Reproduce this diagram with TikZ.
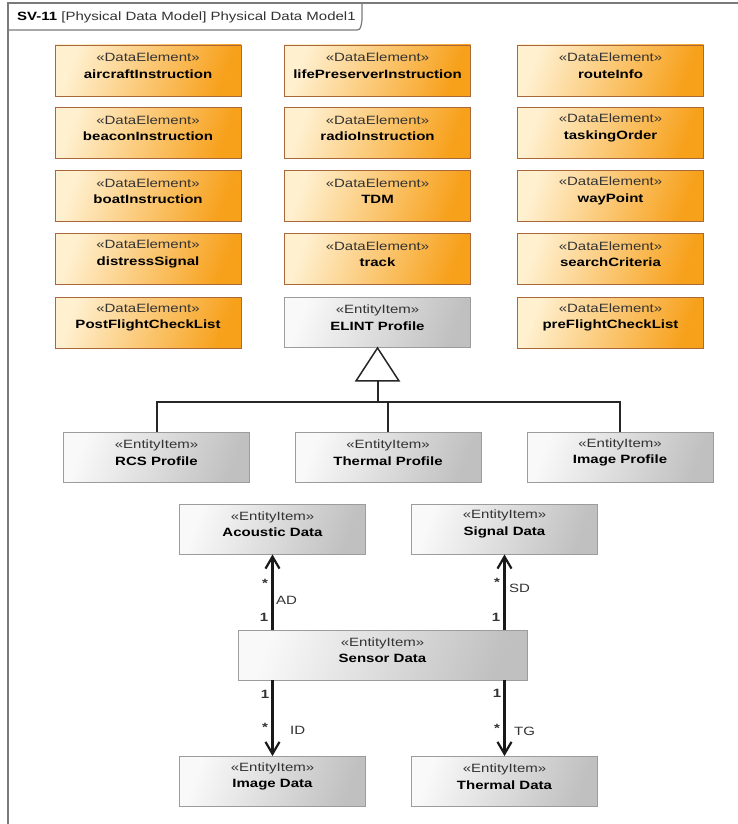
\documentclass[tikz,border=0pt]{standalone}
\usepackage{fontspec}
\setmainfont{Liberation Sans}[FakeStretch=1.25]
\usetikzlibrary{arrows.meta}
\definecolor{orlight}{HTML}{FFF0D0}
\definecolor{ordark}{HTML}{F7A01A}
\definecolor{orborder}{HTML}{A8683A}
\definecolor{grlight}{HTML}{F9F9F9}
\definecolor{grdark}{HTML}{C0C0C0}
\definecolor{grborder}{HTML}{9C9C9C}
\definecolor{framecol}{HTML}{7A7A7A}
\definecolor{txtgray}{HTML}{333333}
\tikzset{
  de/.style={draw=orborder, line width=0.9pt, top color=orlight, bottom color=ordark, shading angle=70,
    minimum width=186pt, minimum height=51pt, inner sep=0pt},
  ent/.style={draw=grborder, line width=0.9pt, top color=grlight, bottom color=grdark, shading angle=70,
    minimum width=186pt, minimum height=50pt, inner sep=0pt},
  boxtext/.style={align=center, font=\fontsize{12}{16.5}\selectfont, inner sep=0pt, text=black},
  mult/.style={font=\fontsize{12}{13}\selectfont\bfseries, inner sep=0pt, text=txtgray},
  rolelbl/.style={font=\fontsize{12}{13}\selectfont, inner sep=0pt, anchor=west, text=txtgray},
  assoc/.style={line width=2.2pt, draw=black!90, -{Straight Barb[length=12pt,width=14pt,line width=2.2pt]}},
  genline/.style={line width=2pt, draw=black!85},
  gentri/.style={line width=1.5pt, draw=black!85, fill=white, line join=miter},
  framel/.style={line width=1.2pt, draw=framecol}
}
\newcommand\umlbox[6]{%
  \node[#2] (#1) at (#3,#4) {};
  \node[boxtext] at ([yshift=5pt]#1.center) {{\color{txtgray}«#5»}\\\textbf{#6}};
}
\begin{document}
\begin{tikzpicture}[x=1pt,y=-1pt]
\useasboundingbox (0,0) rectangle (737,824);
\fill[white] (0,0) rectangle (737,824);
% frame
\draw[framel] (8,830) -- (8,3) -- (740,3);
\draw[framel] (8,30) -- (357,30) .. controls (361,30) and (361,26) .. (362,20) -- (362,3);
\node[anchor=west, font=\fontsize{12}{13}\selectfont, inner sep=0pt, text=txtgray] (title) at (17,17)
  {\textbf{\color{black}SV-11} [Physical Data Model] Physical Data Model1};
% data elements, column 1
\umlbox{ai}{de}{148}{70.5}{DataElement}{aircraftInstruction}
\umlbox{bi}{de}{148}{133}{DataElement}{beaconInstruction}
\umlbox{bo}{de}{148}{196}{DataElement}{boatInstruction}
\umlbox{ds}{de}{148}{259}{DataElement}{distressSignal}
\umlbox{pf}{de}{148}{322.5}{DataElement}{PostFlightCheckList}
% column 2
\umlbox{lp}{de}{377.5}{70.5}{DataElement}{lifePreserverInstruction}
\umlbox{ri}{de}{377.5}{133}{DataElement}{radioInstruction}
\umlbox{tdm}{de}{377.5}{196}{DataElement}{TDM}
\umlbox{tr}{de}{377.5}{259}{DataElement}{track}
\umlbox{el}{ent}{377.5}{322.5}{EntityItem}{ELINT Profile}
% column 3
\umlbox{rt}{de}{610.5}{70.5}{DataElement}{routeInfo}
\umlbox{to}{de}{610.5}{133}{DataElement}{taskingOrder}
\umlbox{wp}{de}{610.5}{196}{DataElement}{wayPoint}
\umlbox{sc}{de}{610.5}{259}{DataElement}{searchCriteria}
\umlbox{prf}{de}{610.5}{322.5}{DataElement}{preFlightCheckList}
% profiles
\umlbox{rcs}{ent}{156.5}{457.5}{EntityItem}{RCS Profile}
\umlbox{thp}{ent}{388}{457.5}{EntityItem}{Thermal Profile}
\umlbox{imp}{ent}{620}{457.5}{EntityItem}{Image Profile}
% generalization
\draw[genline] ([yshift=-33pt]el.south) -- ++(0,21) coordinate (hub);
\draw[genline] (rcs.north) -- (rcs.north |- hub) -- (imp.north |- hub) -- (imp.north);
\draw[genline] (thp.north) -- (thp.north |- hub);
\draw[gentri] (el.south) -- ++(21.5,33) -- ++(-43,0) -- cycle;
% data items
\umlbox{ac}{ent}{272.5}{529}{EntityItem}{Acoustic Data}
\umlbox{sg}{ent}{504.5}{529}{EntityItem}{Signal Data}
\node[ent, minimum width=289pt] (sd) at (382.5,655) {};
\node[boxtext] at ([yshift=5pt]sd.center) {{\color{txtgray}«EntityItem»}\\\textbf{Sensor Data}};
\umlbox{id}{ent}{272.5}{781.5}{EntityItem}{Image Data}
\umlbox{tg}{ent}{504.5}{781.5}{EntityItem}{Thermal Data}
% associations
\draw[assoc] (ac.south |- sd.north) -- (ac.south);
\draw[assoc] (sg.south |- sd.north) -- (sg.south);
\draw[assoc] (id.north |- sd.south) -- (id.north);
\draw[assoc] (tg.north |- sd.south) -- (tg.north);
% labels
\node[mult] (m1) at (265,583) {*};
\node[rolelbl] (lad) at (276,600) {AD};
\node[mult] (m2) at (264,617) {1};
\node[mult] (m3) at (497,582) {*};
\node[rolelbl] (lsd) at (509,588) {SD};
\node[mult] (m4) at (496,617) {1};
\node[mult] (m5) at (265,694) {1};
\node[mult] (m6) at (265,727) {*};
\node[rolelbl] (lid) at (290,730) {ID};
\node[mult] (m7) at (497,693) {1};
\node[mult] (m8) at (497,728) {*};
\node[rolelbl] (ltg) at (514,731) {TG};
\end{tikzpicture}
\end{document}
